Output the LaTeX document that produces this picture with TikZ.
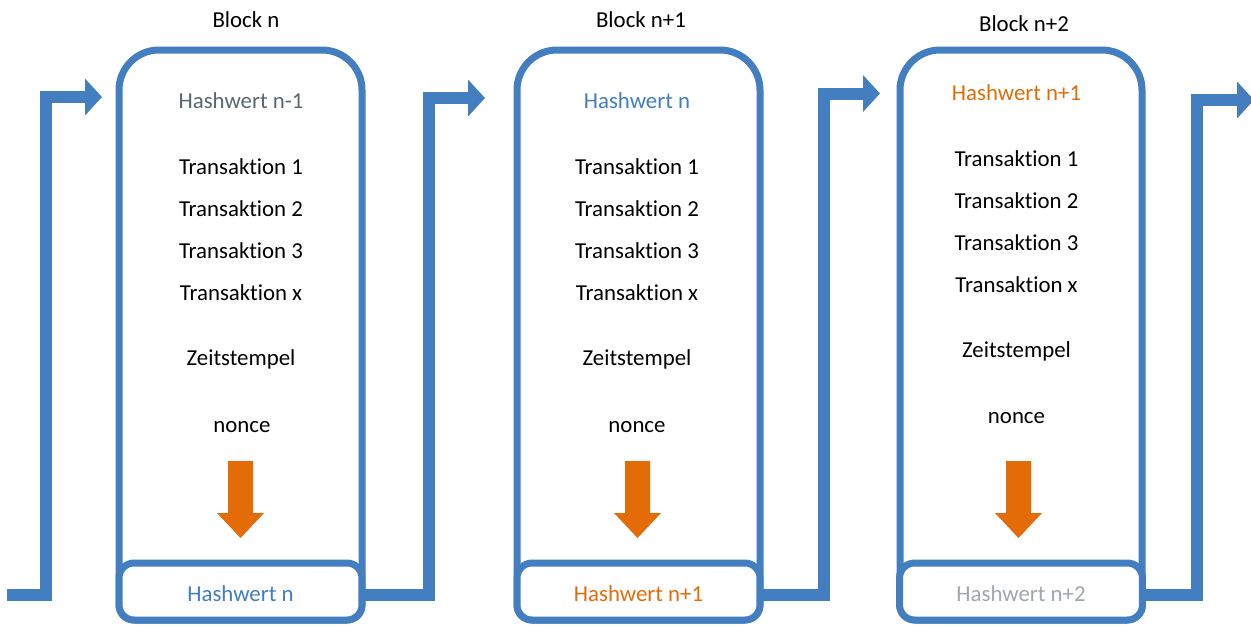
\documentclass[tikz,border=0pt]{standalone}
\usepackage{fontspec}
\setmainfont{Carlito}[Ligatures={NoCommon}]
\usetikzlibrary{arrows.meta}

\definecolor{chainblue}{RGB}{66,126,192}
\definecolor{hashorange}{RGB}{227,108,9}
\definecolor{hashgray}{RGB}{89,103,112}
\definecolor{hashlight}{RGB}{160,168,174}

\tikzset{
  entry/.style={font=\fontsize{13}{15}\selectfont, inner sep=0pt, text height=9pt, text depth=0pt},
  blockline/.style={draw=chainblue, line width=0.14cm, fill=white},
  hashbox/.style={entry, text height=11.8pt, draw=chainblue, line width=0.14cm, fill=white,
    rounded corners=0.3cm, minimum width=4.86cm, minimum height=1.14cm},
  chain/.style={draw=chainblue, line width=0.24cm, -{Triangle[width=0.72cm,length=0.34cm]}},
  hasharrow/.style={fill=hashorange},
}

\begin{document}
\begin{tikzpicture}[x=0.02cm,y=-0.02cm]
%\draw[step=50,gray,very thin] (0,0) grid (1251,626); %background grid
\useasboundingbox (0,0) rectangle (1251,626);

% blocks
\draw[blockline] (119,400) [rounded corners=0.8cm] -- (119,50) -- (362,50) -- (362,400) [rounded corners=0.3cm] -- (362,620) -- (119,620) -- cycle;
\draw[blockline] (517,400) [rounded corners=0.8cm] -- (517,50) -- (760,50) -- (760,400) [rounded corners=0.3cm] -- (760,620) -- (517,620) -- cycle;
\draw[blockline] (900,400) [rounded corners=0.8cm] -- (900,50) -- (1142,50) -- (1142,400) [rounded corners=0.3cm] -- (1142,620) -- (900,620) -- cycle;

\node[entry] (title1) at (246,20) {Block n};
\node[entry] (title2) at (641,20) {Block n+1};
\node[entry] (title3) at (1024,24) {Block n+2};

% block n
\node[entry, text=hashgray] (prev1) at (241,101) {Hashwert n-1};
\node[entry] (tx11) at (241,167) {Transaktion 1};
\node[entry] (tx12) at (241,209) {Transaktion 2};
\node[entry] (tx13) at (241,251) {Transaktion 3};
\node[entry] (tx1x) at (241,293) {Transaktion x};
\node[entry] (time1) at (241,358) {Zeitstempel};
\node[entry] (nonce1) at (242,425) {nonce};
\fill[hasharrow, shift={(240.5,0)}] (-12.5,461) -- (12.5,461) -- (12.5,513) -- (23.5,513) -- (0,538) -- (-23.5,513) -- (-12.5,513) -- cycle;
\node[hashbox, text=chainblue] (hb1) at (240.5,591.5) {Hashwert n};

% block n+1
\node[entry, text=chainblue] (prev2) at (637,101) {Hashwert n};
\node[entry] (tx21) at (637,167) {Transaktion 1};
\node[entry] (tx22) at (637,209) {Transaktion 2};
\node[entry] (tx23) at (637,251) {Transaktion 3};
\node[entry] (tx2x) at (637,293) {Transaktion x};
\node[entry] (time2) at (637,358) {Zeitstempel};
\node[entry] (nonce2) at (637,425) {nonce};
\fill[hasharrow, shift={(637.5,0)}] (-12.5,461) -- (12.5,461) -- (12.5,513) -- (23.5,513) -- (0,538) -- (-23.5,513) -- (-12.5,513) -- cycle;
\node[hashbox, text=hashorange] (hb2) at (638.5,591.5) {Hashwert n+1};

% block n+2
\node[entry, text=hashorange] (prev3) at (1016.5,93) {Hashwert n+1};
\node[entry] (tx31) at (1016.5,159) {Transaktion 1};
\node[entry] (tx32) at (1016.5,201) {Transaktion 2};
\node[entry] (tx33) at (1016.5,243) {Transaktion 3};
\node[entry] (tx3x) at (1016.5,285) {Transaktion x};
\node[entry] (time3) at (1016.5,350) {Zeitstempel};
\node[entry] (nonce3) at (1016.5,416) {nonce};
\fill[hasharrow, shift={(1018.5,0)}] (-12.5,461) -- (12.5,461) -- (12.5,513) -- (23.5,513) -- (0,538) -- (-23.5,513) -- (-12.5,513) -- cycle;
\node[hashbox, text=hashlight] (hb3) at (1021,591.5) {Hashwert n+2};

% chain links
\coordinate (out0) at (7,594.5);
\coordinate (up1) at (46,97);
\coordinate (in1) at (102,97);
\coordinate (up2) at (429,98);
\coordinate (in2) at (485,98);
\coordinate (up3) at (824,93.5);
\coordinate (in3) at (880,93.5);
\coordinate (up4) at (1197,100);
\coordinate (in4) at (1254,100);

\draw[chain] (out0) -| (up1) -- (in1);
\draw[chain] ([yshift=-0.06cm]hb1.east) -| (up2) -- (in2);
\draw[chain] ([yshift=-0.06cm]hb2.east) -| (up3) -- (in3);
\draw[chain] ([yshift=-0.06cm]hb3.east) -| (up4) -- (in4);

\end{tikzpicture}
\end{document}
